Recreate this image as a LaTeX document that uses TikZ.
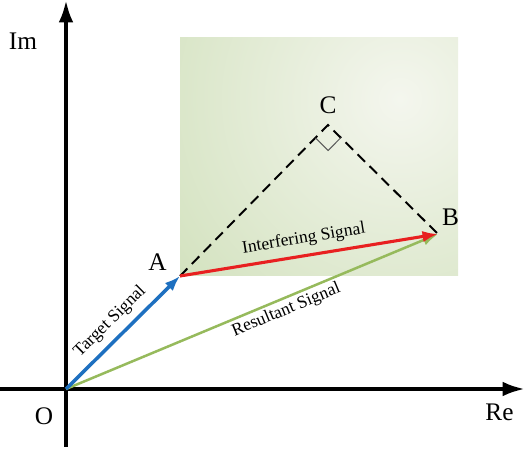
\documentclass[tikz,border=0pt]{standalone}
\usepackage{fontspec}
\setmainfont{Liberation Serif}
\usetikzlibrary{arrows.meta, calc}

\definecolor{sigblue}{RGB}{30,112,192}
\definecolor{sigred}{RGB}{232,32,32}
\definecolor{siggreen}{RGB}{150,186,92}
\definecolor{boxout}{RGB}{198,218,172}
\definecolor{boxin}{RGB}{244,246,238}

\tikzset{
  axis/.style={line width=2.8pt, -{Latex[length=16pt,width=10.5pt]}},
  vec/.style={-{Latex[length=11pt,width=8pt]}},
  lbl/.style={font=\fontsize{18}{21}\selectfont, inner sep=0pt},
  sig/.style={font=\fontsize{12.5}{14}\selectfont, sloped, inner sep=2pt},
  helper/.style={black, line width=1.4pt, dash pattern=on 7.5pt off 4.5pt}
}

\begin{document}
\begin{tikzpicture}[x=0.25cm, y=0.25cm]
\useasboundingbox (0,0) rectangle (52.5,44.9);

\coordinate (O) at (6.6,6.0);
\coordinate (A) at (18.0,17.3);
\coordinate (B) at (43.8,21.5);
\coordinate (C) at (32.8,32.4);

% shaded region
\begin{scope}
\clip (18.0,17.3) rectangle (45.8,41.1);
\fill [boxout] (18.0,17.3) rectangle (45.8,41.1);
\shade [inner color=boxin, outer color=boxout] (40,35) circle (40);
\end{scope}

\draw [axis] (6.6,0.2) -- (6.6,44.9);
\draw [axis] (0,6.0) -- (52.5,6.0);

\draw [helper] (A) -- (C) -- (B);
\coordinate (ca) at ($(C)!0.45cm!(A)$);
\coordinate (cb) at ($(C)!0.45cm!(B)$);
\draw [gray!70!black, line width=0.7pt] (ca) -- ($(ca)+(cb)-(C)$) -- (cb);

\draw [vec, siggreen, line width=1.8pt] (O) -- node [sig, below, pos=0.58, black] (res) {Resultant Signal} (B);
\draw [vec, sigred, line width=2.2pt] (A) -- node [sig, above=3pt, pos=0.49, black] (int) {Interfering Signal} (B);
\draw [vec, sigblue, line width=2.5pt] (O) -- node [sig, above=3pt, pos=0.49, black] (tgt) {Target Signal} (A);

\node [lbl] (im) at (2.3,40.8) {Im};
\node [lbl] (re) at (49.95,3.65) {Re};
\node [lbl] (o) at (4.4,3.25) {O};
\node [lbl] (a) at (15.75,18.7) {A};
\node [lbl] (b) at (45.05,23.2) {B};
\node [lbl] (c) at (32.8,34.35) {C};
\end{tikzpicture}
\end{document}
